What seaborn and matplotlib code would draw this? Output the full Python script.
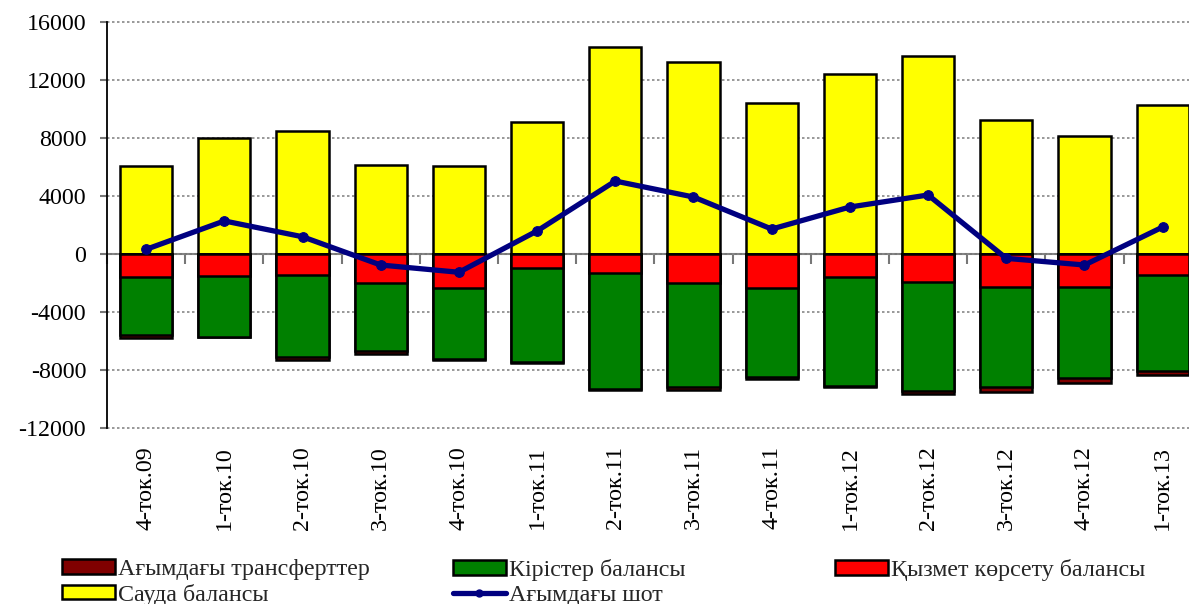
import numpy as np
import matplotlib
matplotlib.use("Agg")
import matplotlib.pyplot as plt
import seaborn as sns
from matplotlib.patches import Patch
from matplotlib.lines import Line2D

quarters = ["4-ток.09", "1-ток.10", "2-ток.10", "3-ток.10", "4-ток.10", "1-ток.11", "2-ток.11",
            "3-ток.11", "4-ток.11", "1-ток.12", "2-ток.12", "3-ток.12", "4-ток.12", "1-ток.13"]
trade = [6100, 8000, 8450, 6150, 6100, 9100, 14300, 13250, 10400, 12400, 13650, 9250, 8150, 10250]
services = [-1560, -1500, -1450, -1980, -2370, -990, -1330, -2020, -2320, -1610, -1950, -2250, -2250, -1450]
income = [-4040, -4220, -5670, -4690, -4890, -6480, -7980, -7180, -6140, -7490, -7520, -6900, -6300, -6620]
transfers = [-200, -30, -190, -230, -60, -30, -40, -150, -180, -60, -210, -390, -370, -270]
current = [320, 2280, 1190, -760, -1260, 1590, 5030, 3930, 1720, 3240, 4070, -300, -760, 1860]

lbl_transfers = "Ағымдағы трансферттер"
lbl_income = "Кірістер балансы"
lbl_services = "Қызмет көрсету балансы"
lbl_trade = "Сауда балансы"
lbl_current = "Ағымдағы шот"

C_TRADE = "#FFFF00"
C_SERV = "#FF0000"
C_INC = "#008000"
C_TRANS = "#800000"
C_CUR = "#000080"

sns.set_theme(style="white")
plt.rcParams["font.family"] = ["Liberation Serif", "DejaVu Serif"]
FS = 17.3

fig = plt.figure(figsize=(11.89, 6.04), dpi=100)
ax = fig.add_axes([107 / 1189, 1 - 428 / 604, 14 * 78.2 / 1189, 406 / 604])

n = len(quarters)
serv_arr = np.array(services)
inc_cum = serv_arr + np.array(income)
trans_cum = inc_cum + np.array(transfers)

bar_kw = dict(width=0.67, saturation=1, edgecolor="black", linewidth=1.8, ax=ax)
sns.barplot(x=quarters, y=trade, color=C_TRADE, **bar_kw)
sns.barplot(x=quarters, y=trans_cum, color=C_TRANS, **bar_kw)
sns.barplot(x=quarters, y=inc_cum, color=C_INC, **bar_kw)
sns.barplot(x=quarters, y=services, color=C_SERV, **bar_kw)

sns.lineplot(x=np.arange(n), y=current, color=C_CUR, linewidth=3.8, marker="o",
             markersize=7, markeredgecolor=C_CUR, ax=ax, zorder=6)

ax.set_xlim(-0.5, n - 0.5)
ax.set_ylim(-12000, 16000)
ax.set_yticks(range(-12000, 16001, 4000))
ax.set_yticklabels([str(v) for v in range(-12000, 16001, 4000)])
ax.yaxis.grid(True, linestyle=(0, (1.5, 1.5)), color="#888888", linewidth=1.2)
for gl in ax.get_ygridlines():
    gl.set_clip_on(False)
ax.set_axisbelow(True)
ax.set_xlabel("")
ax.set_ylabel("")

for s in ["top", "right", "bottom"]:
    ax.spines[s].set_visible(False)
ax.spines["left"].set_color("black")
ax.spines["left"].set_linewidth(1.3)

ax.tick_params(axis="y", left=True, length=5, width=1.5, color="#777777", pad=10,
               labelsize=FS, labelcolor="black")
ax.tick_params(axis="x", bottom=True, length=0, pad=13, labelsize=FS, labelrotation=90,
               labelcolor="black")

# category axis crossing at zero
sec = ax.secondary_xaxis(12000 / 28000)
sec.set_xticks(np.arange(-0.5, n, 1.0))
sec.set_xticklabels([])
sec.tick_params(axis="x", length=7, width=1.5, color="#777777", direction="out")
sec.spines["bottom"].set_color("#777777")
sec.spines["bottom"].set_linewidth(1.5)

def pat(c, l):
    return Patch(facecolor=c, edgecolor="black", linewidth=1.8, label=l)

leg_kw = dict(loc="upper left", frameon=False, fontsize=FS, handlelength=2.2,
              handleheight=0.55, handletextpad=0.12, labelspacing=0.15,
              borderpad=0, borderaxespad=0)
y_leg = 1 - 559 / 604
fig.legend(handles=[pat(C_TRANS, lbl_transfers), pat(C_TRADE, lbl_trade)],
           bbox_to_anchor=(62 / 1189, y_leg), **leg_kw)
fig.legend(handles=[pat(C_INC, lbl_income),
                    Line2D([0], [0], color=C_CUR, linewidth=3.8, marker="o", markersize=5,
                           label=lbl_current)],
           bbox_to_anchor=(453 / 1189, y_leg), **leg_kw)
fig.legend(handles=[pat(C_SERV, lbl_services)],
           bbox_to_anchor=(835 / 1189, y_leg), **leg_kw)

fig.savefig("out.png", dpi=100)
